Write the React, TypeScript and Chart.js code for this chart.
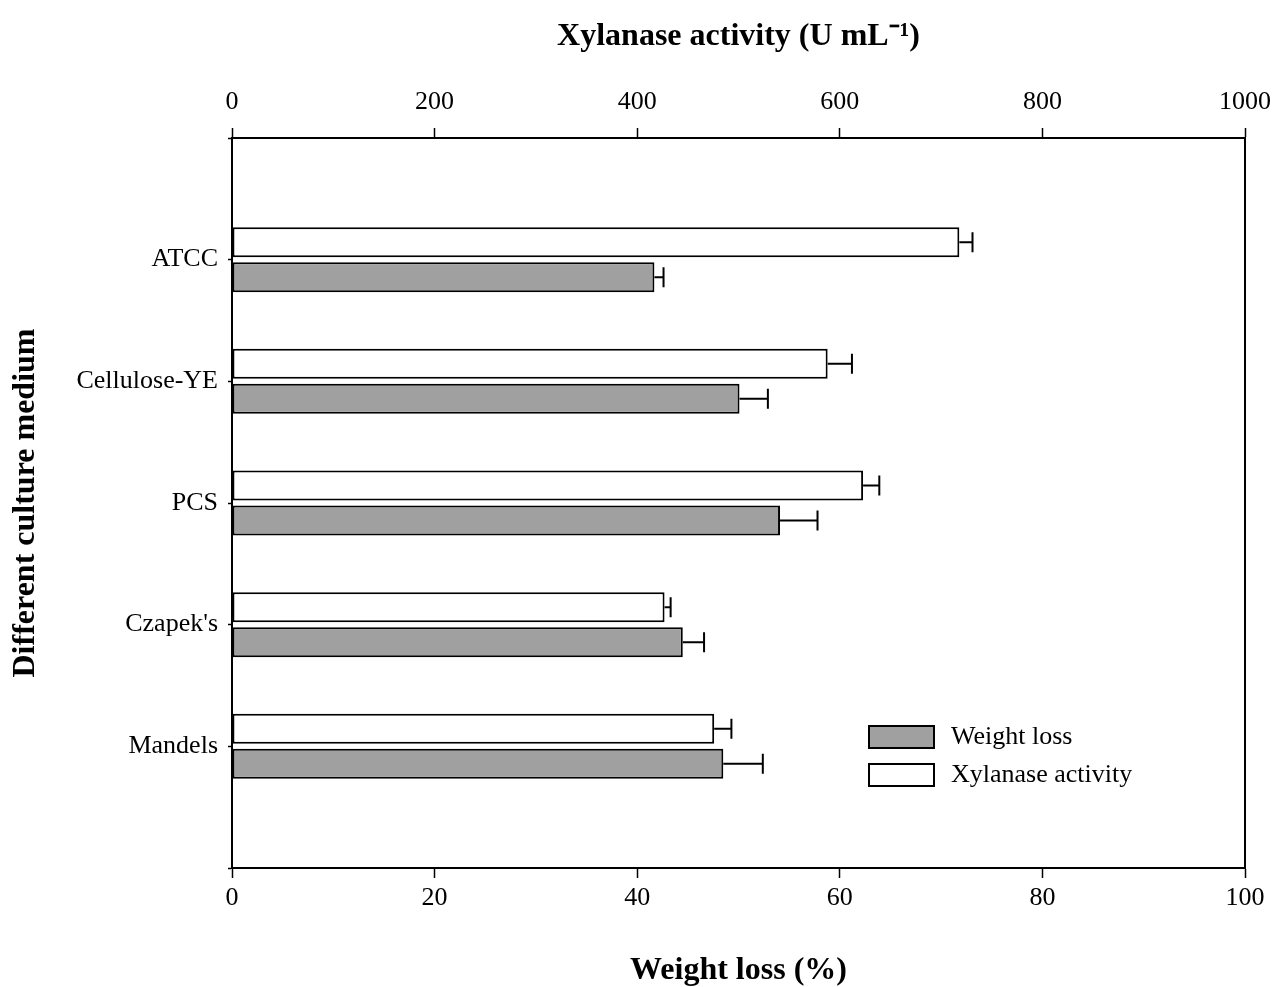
import { useEffect, useRef } from 'react';
import { Chart, registerables } from 'chart.js';

Chart.register(...registerables);

const categories = ['', 'ATCC', 'Cellulose-YE', 'PCS', "Czapek's", 'Mandels', ''];
const xylanaseActivity = [null, 718, 588, 623, 427, 476, null];
const xylanaseError = [null, 13, 24, 16, 6, 17, null];
const weightLoss = [null, 41.7, 50.1, 54.1, 44.5, 48.5, null];
const weightLossError = [null, 0.9, 2.8, 3.7, 2.1, 3.9, null];
const weightLossTicks = [0, 20, 40, 60, 80, 100];
const xylanaseTicks = [0, 200, 400, 600, 800, 1000];

const SERIF = "'Liberation Serif', 'Times New Roman', serif";

const errorBarPlugin = {
  id: 'errorBars',
  afterDatasetsDraw(chart: any) {
    const ctx = chart.ctx;
    chart.data.datasets.forEach((ds: any, i: number) => {
      const meta = chart.getDatasetMeta(i);
      const scale = chart.scales[ds.xAxisID];
      const errs = ds.errors as (number | null)[];
      meta.data.forEach((el: any, j: number) => {
        const v = ds.data[j];
        const e = errs[j];
        if (v == null || e == null) return;
        const x0 = scale.getPixelForValue(v);
        const x1 = scale.getPixelForValue(v + e);
        const y = el.y;
        ctx.save();
        ctx.strokeStyle = '#000';
        ctx.lineWidth = 2;
        ctx.beginPath();
        ctx.moveTo(x0, y);
        ctx.lineTo(x1, y);
        ctx.moveTo(x1, y - 10);
        ctx.lineTo(x1, y + 10);
        ctx.stroke();
        ctx.restore();
      });
    });
  },
};

const framePlugin = {
  id: 'frame',
  afterDraw(chart: any) {
    const { ctx, chartArea } = chart;
    ctx.save();
    ctx.strokeStyle = '#000';
    ctx.lineWidth = 2;
    ctx.beginPath();
    ctx.moveTo(chartArea.right, chartArea.top);
    ctx.lineTo(chartArea.right, chartArea.bottom);
    ctx.stroke();
    ctx.restore();
  },
};

const legendPlugin = {
  id: 'insideLegend',
  afterDraw(chart: any) {
    const { ctx, chartArea } = chart;
    const order = [1, 0];
    const left = chartArea.left + 637;
    const top = chartArea.top + 588;
    ctx.save();
    order.forEach((di, k) => {
      const ds = chart.data.datasets[di];
      const y = top + k * 38;
      ctx.fillStyle = ds.backgroundColor;
      ctx.fillRect(left, y, 65, 22);
      ctx.strokeStyle = '#000';
      ctx.lineWidth = 2;
      ctx.strokeRect(left, y, 65, 22);
      ctx.fillStyle = '#000';
      ctx.font = `26px ${SERIF}`;
      ctx.textBaseline = 'middle';
      ctx.textAlign = 'left';
      ctx.fillText(ds.label, left + 82, y + 11);
    });
    ctx.restore();
  },
};

export default function App() {
  const ref = useRef<HTMLCanvasElement | null>(null);

  useEffect(() => {
    if (!ref.current) return;
    const chart = new Chart(ref.current, {
      type: 'bar',
      data: {
        labels: categories,
        datasets: [
          {
            label: 'Xylanase activity',
            data: xylanaseActivity,
            errors: xylanaseError,
            xAxisID: 'x2',
            backgroundColor: '#ffffff',
            borderColor: '#000000',
            borderWidth: 2,
            borderSkipped: false,
          } as any,
          {
            label: 'Weight loss',
            data: weightLoss,
            errors: weightLossError,
            xAxisID: 'x',
            backgroundColor: '#a0a0a0',
            borderColor: '#000000',
            borderWidth: 2,
            borderSkipped: false,
          } as any,
        ],
      },
      options: {
        indexAxis: 'y',
        animation: false,
        responsive: true,
        maintainAspectRatio: false,
        layout: { padding: { left: 0, right: 28, top: 0, bottom: 0 } },
        datasets: {
          bar: {
            categoryPercentage: 70 / 121.67,
            barPercentage: 30 / 35,
          },
        },
        plugins: {
          legend: { display: false },
          tooltip: { enabled: false },
        },
        scales: {
          y: {
            type: 'category',
            offset: false,
            afterFit: (s: any) => {
              s.width = 232;
              s.paddingTop = 0;
              s.paddingBottom = 0;
            },
            border: { display: true, color: '#000', width: 2 },
            grid: {
              offset: false,
              drawOnChartArea: false,
              drawTicks: true,
              tickLength: 4,
              tickColor: '#000',
              tickWidth: 1.5,
            },
            ticks: {
              color: '#000',
              padding: 10,
              font: { family: SERIF, size: 26 },
              autoSkip: false,
            },
            title: {
              display: true,
              text: 'Different culture medium',
              color: '#000',
              font: { family: SERIF, size: 32, weight: 'bold' },
              padding: { top: 7, bottom: 0 },
            },
          },
          x: {
            type: 'linear',
            position: 'bottom',
            min: 0,
            max: 100,
            afterBuildTicks: (s: any) => {
              s.ticks = weightLossTicks.map((v) => ({ value: v }));
            },
            afterFit: (s: any) => {
              s.height = 119;
              s.paddingLeft = 0;
              s.paddingRight = 0;
            },
            border: { display: true, color: '#000', width: 2 },
            grid: {
              drawOnChartArea: false,
              drawTicks: true,
              tickLength: 10,
              tickColor: '#000',
              tickWidth: 1.5,
            },
            ticks: {
              color: '#000',
              padding: 5,
              maxRotation: 0,
              callback: (v: any) => String(v),
              font: { family: SERIF, size: 26 },
            },
            title: {
              display: true,
              text: 'Weight loss (%)',
              color: '#000',
              font: { family: SERIF, size: 32, weight: 'bold', lineHeight: 1 },
              padding: { top: 0, bottom: 0 },
            },
          },
          x2: {
            type: 'linear',
            position: 'top',
            min: 0,
            max: 1000,
            afterBuildTicks: (s: any) => {
              s.ticks = xylanaseTicks.map((v) => ({ value: v }));
            },
            afterFit: (s: any) => {
              s.height = 138;
              s.paddingLeft = 0;
              s.paddingRight = 0;
            },
            border: { display: true, color: '#000', width: 2 },
            grid: {
              drawOnChartArea: false,
              drawTicks: true,
              tickLength: 10,
              tickColor: '#000',
              tickWidth: 1.5,
            },
            ticks: {
              color: '#000',
              padding: 10,
              maxRotation: 0,
              callback: (v: any) => String(v),
              font: { family: SERIF, size: 26 },
            },
            title: {
              display: true,
              text: 'Xylanase activity (U mL\u207B\u00B9)',
              color: '#000',
              font: { family: SERIF, size: 32, weight: 'bold' },
              padding: { top: 18, bottom: 0 },
            },
          },
        },
      } as any,
      plugins: [errorBarPlugin, framePlugin, legendPlugin],
    });
    return () => chart.destroy();
  }, []);

  return (
    <div style={{ position: 'absolute', left: 0, top: 0, width: 1273, height: 987, background: '#fff' }}>
      <canvas ref={ref} />
    </div>
  );
}
